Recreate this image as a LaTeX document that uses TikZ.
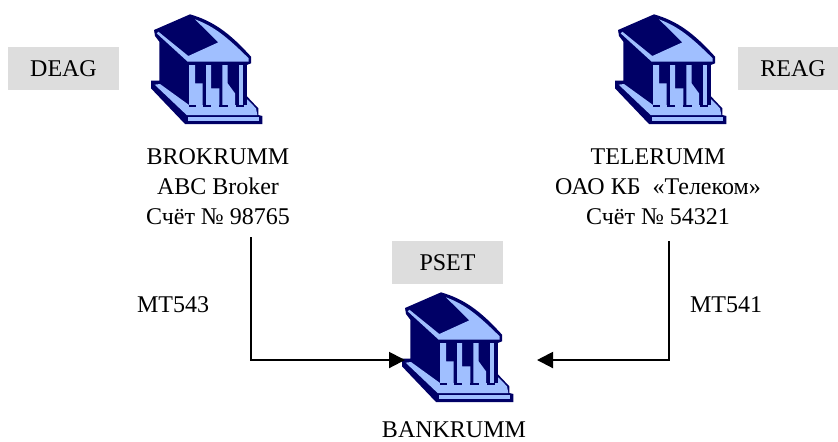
\documentclass[tikz,border=0pt]{standalone}
\usepackage{fontspec}
\setmainfont{Liberation Serif}
\usepackage{tikz}
\usetikzlibrary{arrows.meta}
\definecolor{bldgdark}{HTML}{000066}
\definecolor{bldglight}{HTML}{A0BFFF}
\definecolor{rolegrey}{HTML}{DDDDDD}
\tikzset{
  labelfont/.style={font=\fontsize{12}{15}\selectfont},
  rolebox/.style={labelfont,fill=rolegrey,inner sep=0pt,minimum width=55.5pt,minimum height=21.5pt},
  bankname/.style={labelfont,align=center,inner sep=0pt},
  msglabel/.style={labelfont,inner sep=0pt,anchor=base},
  flow/.style={-{Triangle[length=8pt,width=8pt]},line width=1pt},
  bankicon/.pic={
    % Outline
    \fill[bldgdark] (150,13) -- (42,60) -- (45,78) -- (58,95) -- (58,212) -- (33,212) -- (33,235)
      -- (135,342) -- (367,342) -- (367,318) -- (355,315) -- (355,295) -- (320,258) -- (320,165)
      -- (333,160) -- (333,140) .. controls (270,70) and (220,33) .. (150,13) -- cycle;
    % Roof
    \fill[bldglight] (165,28) -- (235,97) -- (145,138) -- (55,65) -- (50,70) -- (143,155) -- (326,155)
      -- (326,145) .. controls (265,85) and (225,50) .. (165,28) -- cycle;
    % Floor
    \fill[bldglight] (44,224) -- (60,222) -- (147,285) -- (315,285) -- (322,268) -- (348,295)
      -- (352,315) -- (140,315) -- cycle;
    \fill[bldglight] (143,322) -- (358,322) -- (358,333) -- (143,333) -- cycle;
    % Columns
    \fill[bldgdark] (147,165) rectangle (320,285);
    \fill[bldglight] (147,165) -- (165,165) -- (165,220) -- (188,220) -- (188,285) -- (147,285) -- cycle;
    \fill[bldglight] (198,165) -- (213,165) -- (213,235) -- (238,235) -- (238,285) -- (198,285) -- cycle;
    \fill[bldglight] (247,165) -- (263,165) -- (263,220) -- (285,250) -- (285,285) -- (247,285) -- cycle;
    \fill[bldglight] (298,165) -- (310,165) -- (310,285) -- (298,285) -- cycle;
    % Feet
    \foreach \footx in {188,238,288}
      \fill[bldgdark] (\footx,285) rectangle ++(25,7);
    \fill[bldgdark] (147,285) rectangle ++(21,7);
  }
}
\begin{document}
\begin{tikzpicture}[x=0.5pt,y=-0.5pt]
\useasboundingbox (0,0) rectangle (838,441);

% Buildings
\pic[scale=1/3] at (140,10) {bankicon};
\pic[scale=1/3] at (604,10) {bankicon};
\pic[scale=1/3] at (391,288) {bankicon};

% Roles
\node[rolebox] (deag) at (63.5,68.5) {DEAG};
\node[rolebox] (reag) at (793,68.5) {REAG};
\node[rolebox] (pset) at (447.5,262.5) {PSET};

% Names
\node[bankname] (brokrumm) at (218,187) {BROKRUMM\\ABC Broker\\Счёт № 98765};
\node[bankname] (telerumm) at (658,187) {TELERUMM\\ОАО КБ \ «Телеком»\\Счёт № 54321};
\node[bankname,anchor=base] (bankrumm) at (454,437) {BANKRUMM};

% Messages
\node[msglabel] (mt543) at (173,312) {MT543};
\node[msglabel] (mt541) at (726,312) {MT541};

% Connections
\coordinate (brokout) at (251,237);
\coordinate (teleout) at (669,241);
\coordinate (bankwest) at (405,360);
\coordinate (bankeast) at (537,360);
\draw[flow] (brokout) |- (bankwest);
\draw[flow] (teleout) |- (bankeast);
\end{tikzpicture}
\end{document}
